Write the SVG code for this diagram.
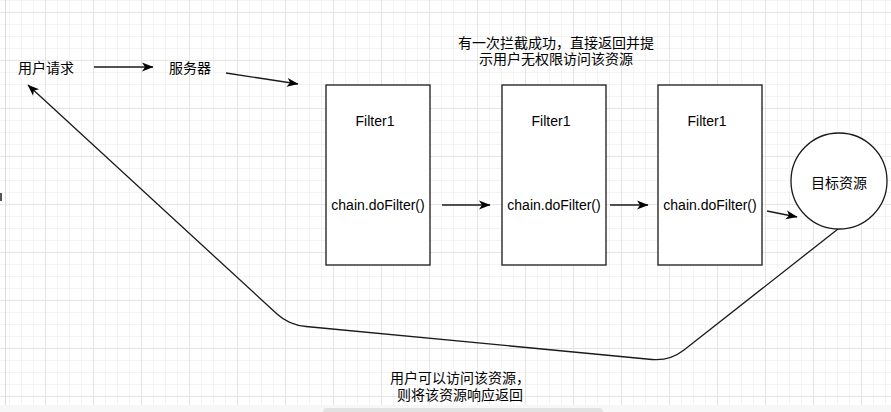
<svg xmlns="http://www.w3.org/2000/svg" width="891" height="412" viewBox="0 0 891 412">
<style>
.box{fill:#fff;stroke:#1a1a1a;stroke-width:1.3}
.t{font-family:"Liberation Sans",Arial,sans-serif;font-size:14px;fill:#000;text-anchor:middle;dominant-baseline:central}
.c{font-family:"Noto Sans CJK SC","Liberation Sans",sans-serif;font-size:14px;fill:#000;text-anchor:middle;dominant-baseline:central}
.e{fill:none;stroke:#1a1a1a;stroke-width:1.3;marker-end:url(#arr)}
</style>
<defs>
<pattern id="grid" x="-3" y="-36" width="48" height="48" patternUnits="userSpaceOnUse">
<path d="M12.5,0V48M24.5,0V48M36.5,0V48M0,12.5H48M0,24.5H48M0,36.5H48" stroke="#f3f3f3" stroke-width="1" fill="none"/>
<path d="M0.5,0V48M0,0.5H48" stroke="#e4e4e4" stroke-width="1" fill="none"/>
</pattern>
<marker id="arr" markerUnits="userSpaceOnUse" markerWidth="12" markerHeight="10" refX="11" refY="4.5" orient="auto" overflow="visible">
<path d="M0,0L11.5,4.5L0,9L3,4.5Z" fill="#000"/>
</marker>
</defs>
<rect width="891" height="412" fill="#fff"/>
<rect width="891" height="412" fill="url(#grid)"/>
<line x1="5.5" y1="0" x2="5.5" y2="405" stroke="#dcdcdc" stroke-width="1"/>
<rect x="0" y="193" width="2" height="8" fill="#555"/>
<rect x="0" y="405" width="891" height="7" fill="#f7f7f7"/>
<rect x="323" y="408" width="280" height="8" rx="4" fill="#e2e2e2"/>

<g id="connectors">
<path class="e" d="M94,67H153"/>
<path class="e" d="M226,73L298,84"/>
<path class="e" d="M442,205H490"/>
<path class="e" d="M610,205H648"/>
<path class="e" d="M767,211L797,217"/>
<path class="e" d="M838,229L684,350Q670,361 652,359.5L306,326.5Q289,325 277,314L28,85"/>
</g>

<g id="user-request"><text class="c" x="46" y="67">用户请求</text></g>
<g id="server"><text class="c" x="190" y="67">服务器</text></g>

<g id="filter1">
<rect class="box" x="326" y="85" width="104" height="180"/>
<text class="t" x="375" y="121">Filter1</text>
<text class="t" x="378" y="205">chain.doFilter()</text>
</g>
<g id="filter2">
<rect class="box" x="502" y="85" width="104" height="180"/>
<text class="t" x="551" y="121">Filter1</text>
<text class="t" x="554" y="205">chain.doFilter()</text>
</g>
<g id="filter3">
<rect class="box" x="658" y="85" width="104" height="180"/>
<text class="t" x="707" y="121">Filter1</text>
<text class="t" x="710" y="205">chain.doFilter()</text>
</g>
<g id="target">
<circle class="box" cx="839" cy="181" r="48"/>
<text class="c" x="839" y="182">目标资源</text>
</g>
<g id="note-top">
<text class="c"><tspan x="556" y="42">有一次拦截成功，直接返回并提</tspan><tspan x="556" y="58">示用户无权限访问该资源</tspan></text>
</g>
<g id="note-bottom">
<text class="c"><tspan x="460" y="377">用户可以访问该资源，</tspan><tspan x="460" y="394">则将该资源响应返回</tspan></text>
</g>
</svg>
